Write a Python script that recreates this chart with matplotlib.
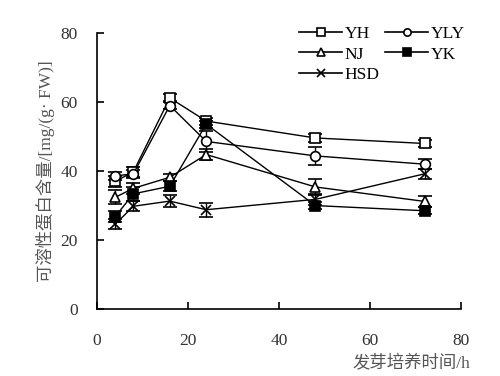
import numpy as np
import matplotlib
matplotlib.use('Agg')
import matplotlib.pyplot as plt
from matplotlib.lines import Line2D

plt.rcParams['font.family'] = ['Liberation Serif', 'Noto Sans CJK SC']

# 发芽培养时间/h
hours = [4, 8, 16, 24, 48, 72]

yh = [37.0, 39.8, 61.2, 54.5, 49.6, 48.0]
yh_err = [1.5, 1.5, 1.0, 1.0, 1.2, 1.0]
yly = [38.6, 39.2, 59.0, 48.6, 44.4, 42.0]
yly_err = [1.2, 1.2, 1.0, 3.0, 2.5, 1.5]
nj = [32.4, 35.0, 38.2, 44.8, 35.4, 31.2]
nj_err = [2.0, 1.5, 1.0, 1.5, 2.2, 1.5]
yk = [26.8, 33.4, 35.6, 53.6, 30.0, 28.5]
yk_err = [1.5, 2.0, 1.5, 1.0, 1.0, 1.0]
hsd = [24.6, 29.8, 31.3, 28.8, 31.8, 39.2]
hsd_err = [1.5, 1.5, 1.8, 2.0, 1.5, 1.5]

series = [
    ('YH', yh, yh_err, 's', 'white'),
    ('YLY', yly, yly_err, 'o', 'white'),
    ('NJ', nj, nj_err, '^', 'white'),
    ('YK', yk, yk_err, 's', 'black'),
    ('HSD', hsd, hsd_err, 'x', 'black'),
]

fig = plt.figure(figsize=(5, 3.76), dpi=100)
ax = fig.add_axes([0.194, 0.178, 0.728, 0.734])

handles = {}
for name, vals, err, mk, fc in series:
    ax.errorbar(hours, vals, yerr=err, color='black', lw=1.0, marker=mk,
                markersize=7, markerfacecolor=fc, markeredgecolor='black',
                markeredgewidth=1.2, capsize=5, elinewidth=1.0, capthick=1.0)
    handles[name] = Line2D([], [], color='black', lw=1.2, marker=mk,
                           markersize=7, markerfacecolor=fc,
                           markeredgecolor='black', markeredgewidth=1.2)

ax.set_xlim(0, 80)
ax.set_ylim(0, 80)
ax.set_xticks([0, 20, 40, 60, 80])
ax.set_yticks([0, 20, 40, 60, 80])
ax.spines['top'].set_visible(False)
ax.spines['right'].set_visible(False)
ax.spines['left'].set_linewidth(1.2)
ax.spines['bottom'].set_linewidth(1.2)
ax.tick_params(direction='in', length=5, width=1.2, labelsize=12.5,
               labelcolor='#333333')
ax.tick_params(axis='x', pad=17)
ax.tick_params(axis='y', pad=14)

ax.set_ylabel('可溶性蛋白含量/[mg/(g· FW)]', fontsize=12.5, color='#555555',
              labelpad=4)
ax.text(1.025, -0.2, '发芽培养时间/h', transform=ax.transAxes, ha='right',
        va='center', fontsize=12.5, color='#555555')

# 按行排列: YH YLY / NJ YK / HSD
order = ['YH', 'NJ', 'HSD', 'YLY', 'YK']
leg = ax.legend([handles[n] for n in order], order, ncol=2, frameon=False,
                fontsize=12.5, loc='upper right', bbox_to_anchor=(1.045, 1.07),
                handlelength=2.5, markerscale=0.75, labelspacing=0.25,
                columnspacing=0.3, handletextpad=0.15, borderpad=0.2)

fig.savefig('out.png', dpi=100)
